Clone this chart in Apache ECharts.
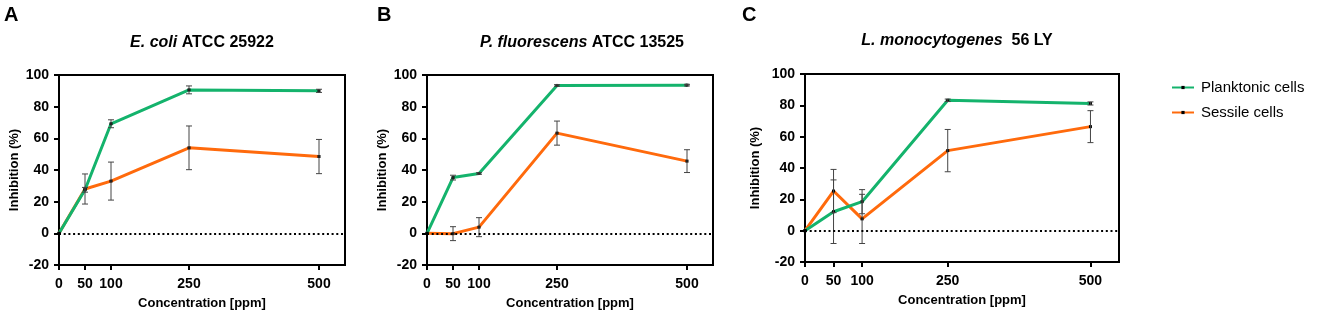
<!DOCTYPE html>
<html>
<head>
<meta charset="utf-8">
<script src="https://cdn.jsdelivr.net/npm/echarts@6/dist/echarts.min.js"></script>
<style>
html, body { margin: 0; padding: 0; background: #fff; }
#chart { width: 1325px; height: 316px; }
</style>
</head>
<body>
<div id="chart"></div>
<script>
// concentrations (ppm) and tick labels
var concentrations = [0, 50, 100, 250, 500];
var xTicks = [0, 50, 100, 250, 500];

// E. coli ATCC 25922
var ecoliPlanktonic = [0, 27.5, 69.2, 90.6, 90.0];
var ecoliPlanktonicErr = [0, 1.5, 2.5, 2.5, 1.0];
var ecoliSessile = [0, 28.0, 33.0, 54.0, 48.5];
var ecoliSessileErr = [0, 9.5, 12.0, 13.8, 10.8];

// P. fluorescens ATCC 13525
var pfluPlanktonic = [0, 35.2, 37.8, 93.4, 93.6];
var pfluPlanktonicErr = [0, 1.5, 0.5, 0.5, 0.5];
var pfluSessile = [0, -0.2, 3.9, 63.3, 45.6];
var pfluSessileErr = [0, 4.4, 6.0, 7.6, 7.2];

// L. monocytogenes 56 LY
var listPlanktonic = [0, 12.1, 18.5, 83.2, 81.2];
var listPlanktonicErr = [0, 20.3, 7.7, 0.8, 1.0];
var listSessile = [0, 25.3, 7.5, 51.1, 66.4];
var listSessileErr = [0, 13.8, 15.7, 13.5, 10.2];

var green = '#14b36c';
var orange = '#ff6a0c';
var font = 'Liberation Sans, Arial, sans-serif';

var chart = echarts.init(document.getElementById('chart'));

var grids = [
    {left: 59, top: 75, width: 286, height: 190},
    {left: 427, top: 75, width: 286, height: 190},
    {left: 805, top: 74, width: 314, height: 188}
];
var yNameGaps = [38, 38, 43];

function pairs(values) {
    return concentrations.map(function (c, i) { return [c, values[i]]; });
}

function lineSeries(idx, name, color, values, withZero) {
    var s = {
        type: 'line',
        name: name,
        xAxisIndex: idx,
        yAxisIndex: idx,
        data: pairs(values),
        symbol: 'rect',
        symbolSize: 3,
        z: 2,
        itemStyle: {color: '#000'},
        lineStyle: {color: color, width: 3},
        emphasis: {disabled: true},
        animation: false
    };
    if (withZero) {
        s.markLine = {
            silent: true,
            symbol: 'none',
            label: {show: false},
            lineStyle: {color: '#000', width: 2, type: [2, 2.7]},
            data: [{yAxis: 0}]
        };
    }
    return s;
}

function errorSeries(idx, values, errs) {
    return {
        type: 'custom',
        xAxisIndex: idx,
        yAxisIndex: idx,
        z: 4,
        silent: true,
        animation: false,
        data: concentrations.map(function (c, i) {
            return [c, values[i] - errs[i], values[i] + errs[i]];
        }),
        renderItem: function (params, api) {
            if (api.value(1) === api.value(2)) return;
            var lo = api.coord([api.value(0), api.value(1)]);
            var hi = api.coord([api.value(0), api.value(2)]);
            var st = {stroke: '#444', lineWidth: 1};
            return {
                type: 'group',
                children: [
                    {type: 'line', shape: {x1: lo[0], y1: lo[1], x2: hi[0], y2: hi[1]}, style: st},
                    {type: 'line', shape: {x1: lo[0] - 3, y1: lo[1], x2: lo[0] + 3, y2: lo[1]}, style: st},
                    {type: 'line', shape: {x1: hi[0] - 3, y1: hi[1], x2: hi[0] + 3, y2: hi[1]}, style: st}
                ]
            };
        }
    };
}

var xAxes = [], yAxes = [];
for (var i = 0; i < 3; i++) {
    xAxes.push({
        type: 'value', gridIndex: i, min: 0, max: 550,
        name: 'Concentration [ppm]', nameLocation: 'middle', nameGap: 32,
        nameTextStyle: {fontFamily: font, fontSize: 13, fontWeight: 'bold', color: '#000'},
        axisLine: {onZero: false, lineStyle: {color: '#000', width: 2}},
        axisTick: {customValues: xTicks, length: 5, lineStyle: {color: '#000', width: 2}},
        axisLabel: {customValues: xTicks, margin: 12, fontFamily: font, fontSize: 14, fontWeight: 'bold', color: '#000'},
        splitLine: {show: false}
    });
    yAxes.push({
        type: 'value', gridIndex: i, min: -20, max: 100, interval: 20,
        name: 'Inhibition (%)', nameLocation: 'middle', nameGap: yNameGaps[i],
        nameTextStyle: {fontFamily: font, fontSize: 13, fontWeight: 'bold', color: '#000'},
        axisLine: {show: true, onZero: false, lineStyle: {color: '#000', width: 2}},
        axisTick: {show: true, length: 5, lineStyle: {color: '#000', width: 2}},
        axisLabel: {margin: 10, fontFamily: font, fontSize: 14, fontWeight: 'bold', color: '#000'},
        splitLine: {show: false}
    });
}

var titleRich = {
    i: {fontFamily: font, fontSize: 16, fontWeight: 'bold', fontStyle: 'italic', fill: '#000'},
    b: {fontFamily: font, fontSize: 16, fontWeight: 'bold', fill: '#000'}
};
function titleText(x, y, txt) {
    return {
        type: 'text', x: x, y: y, silent: true,
        style: {text: txt, rich: titleRich, align: 'center', verticalAlign: 'middle',
            fontFamily: font, fontSize: 16, fontWeight: 'bold', fill: '#000'}
    };
}
function letter(x, txt) {
    return {
        type: 'text', x: x, y: 15, silent: true,
        style: {text: txt, fontFamily: font, fontSize: 20, fontWeight: 'bold', fill: '#000',
            verticalAlign: 'middle'}
    };
}

chart.setOption({
    animation: false,
    grid: grids.map(function (g) {
        return Object.assign({show: true, borderColor: '#000', borderWidth: 2, backgroundColor: 'transparent'}, g);
    }),
    xAxis: xAxes,
    yAxis: yAxes,
    legend: {
        data: ['Planktonic cells', 'Sessile cells'],
        orient: 'vertical',
        left: 1166,
        top: 75,
        itemWidth: 22,
        itemHeight: 4,
        itemGap: 10,
        selectedMode: false,
        textStyle: {fontFamily: font, fontSize: 15, color: '#000', padding: [0, 0, 0, 2]}
    },
    graphic: [
        letter(4, 'A'), letter(377, 'B'), letter(742, 'C'),
        titleText(202, 43, '{i|E. coli} {b|ATCC 25922}'),
        titleText(582, 43, '{i|P. fluorescens} {b|ATCC 13525}'),
        titleText(957, 41, '{i|L. monocytogenes}  {b|56 LY}')
    ],
    series: [
        lineSeries(0, 'Sessile cells', orange, ecoliSessile, true),
        lineSeries(0, 'Planktonic cells', green, ecoliPlanktonic, false),
        errorSeries(0, ecoliSessile, ecoliSessileErr),
        errorSeries(0, ecoliPlanktonic, ecoliPlanktonicErr),
        lineSeries(1, 'Sessile cells', orange, pfluSessile, true),
        lineSeries(1, 'Planktonic cells', green, pfluPlanktonic, false),
        errorSeries(1, pfluSessile, pfluSessileErr),
        errorSeries(1, pfluPlanktonic, pfluPlanktonicErr),
        lineSeries(2, 'Sessile cells', orange, listSessile, true),
        lineSeries(2, 'Planktonic cells', green, listPlanktonic, false),
        errorSeries(2, listSessile, listSessileErr),
        errorSeries(2, listPlanktonic, listPlanktonicErr)
    ]
});
</script>
</body>
</html>
